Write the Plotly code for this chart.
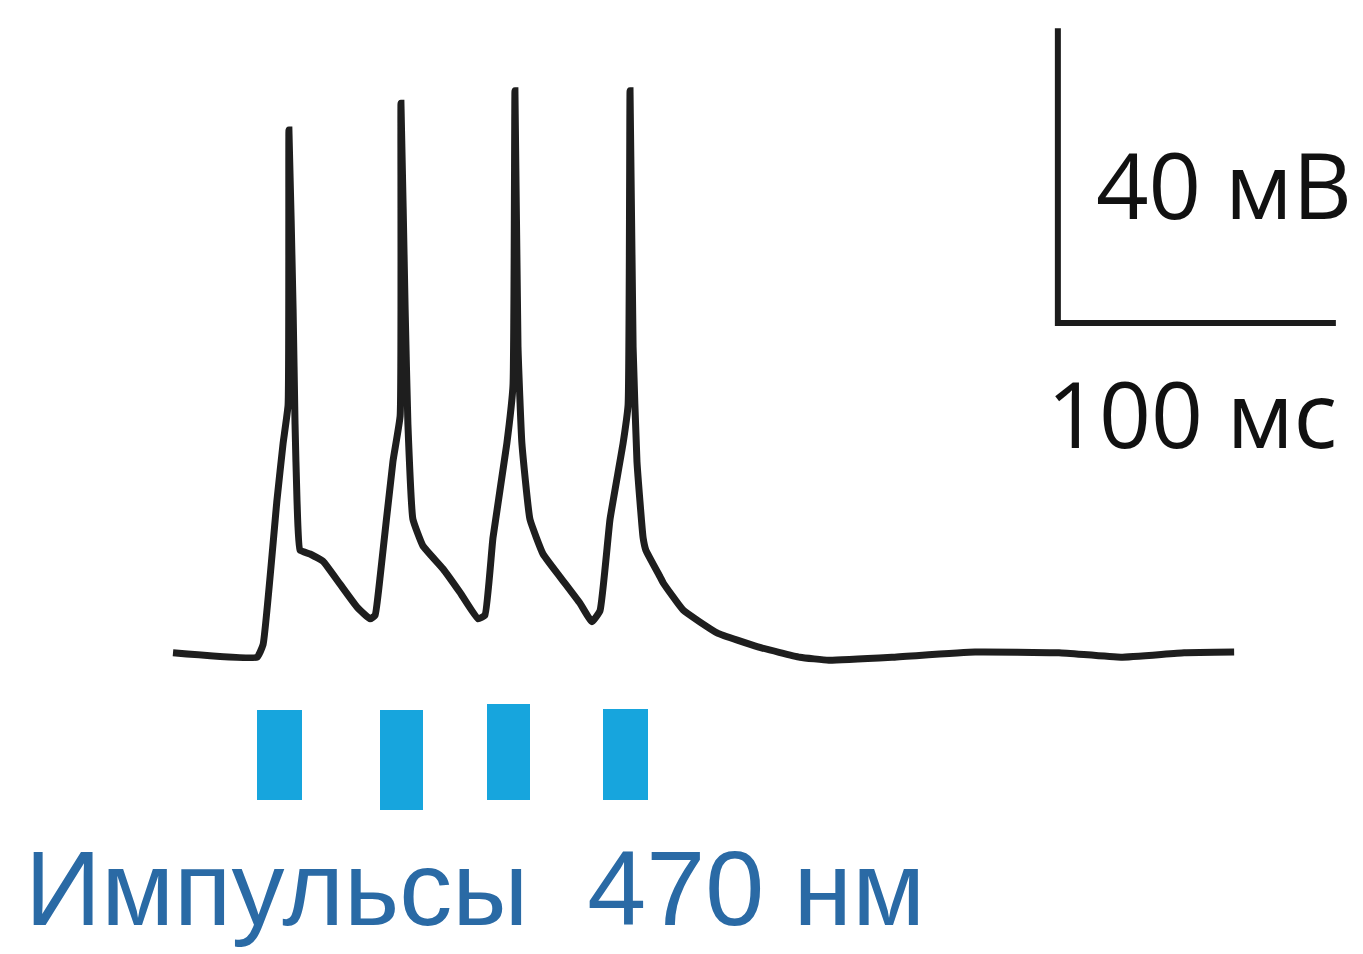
import plotly.graph_objects as go

# Membrane potential trace (time in ms, voltage in mV)
time_ms = [0, 30.2, 32.4, 37.4, 39.6, 41.4, 41.7, 43.2, 43.9, 44.6, 45.7, 49.3, 54.0, 60.1, 66.2,
           70.9, 72.7, 74.5, 79.1, 81.7, 82.0, 83.5, 84.5, 86.3, 89.9, 97.1, 103.2, 109.7, 112.2,
           115.1, 120.1, 122.3, 123.0, 124.1, 125.5, 128.4, 133.1, 139.2, 146.4, 150.7, 153.6,
           157.2, 161.9, 163.7, 164.4, 165.5, 166.9, 169.1, 170.1, 175.2, 176.3, 183.5, 195.7,
           210.4, 225.5, 235.9, 258.6, 288.5, 318.7, 341.0, 363.7, 381.7]
voltage_mV = [-64.7, -65.3, -63.6, -44.0, -36.3, -31.1, 6.2, -18.1, -33.7, -44.0, -50.8, -51.3,
              -52.3, -55.4, -58.5, -60.1, -59.6, -54.4, -38.8, -32.6, 9.8, -18.1, -33.7, -46.6,
              -50.2, -53.3, -56.5, -60.1, -59.6, -49.1, -36.3, -28.5, 11.5, -23.2, -36.3, -46.6,
              -51.3, -54.4, -58.0, -60.5, -59.0, -46.6, -36.3, -31.1, 11.5, -23.2, -38.8, -49.1,
              -50.8, -54.4, -55.2, -58.9, -62.0, -63.9, -65.3, -65.7, -65.3, -64.6, -64.7, -65.3,
              -64.7, -64.6]

# 470 nm light pulses: start and end (ms)
pulse_start_ms = [30.2, 74.5, 112.9, 154.7]
pulse_end_ms = [46.4, 89.9, 128.4, 170.9]
pulse_low_mV = [-84.7, -86.0, -84.7, -84.7]
pulse_high_mV = [-72.5, -72.5, -71.7, -72.3]

# Scale bar
scale_t0 = 318.3
scale_time_ms = 100
scale_v0 = -20.0
scale_volt_mV = 40

label_voltage = "40 мВ"
label_time = "100 мс"
label_pulses = "Импульсы\u00a0 470 нм"

W, H = 1363, 954
px_per_ms = 2.78
px_per_mV = 7.375
x_origin_px = 173
y_origin_px = 655
v_origin = -65.0

x_range = [-x_origin_px / px_per_ms, (W - x_origin_px) / px_per_ms]
y_range = [v_origin - (H - y_origin_px) / px_per_mV, v_origin + y_origin_px / px_per_mV]

fig = go.Figure()

# pulses as bars
fig.add_trace(go.Bar(
    x=[(a + b) / 2 for a, b in zip(pulse_start_ms, pulse_end_ms)],
    width=[b - a for a, b in zip(pulse_start_ms, pulse_end_ms)],
    base=pulse_low_mV,
    y=[h - l for h, l in zip(pulse_high_mV, pulse_low_mV)],
    marker=dict(color="#17a5dd", line=dict(width=0)),
    hoverinfo="skip",
))

fig.add_trace(go.Scatter(
    x=time_ms, y=voltage_mV, mode="lines",
    line=dict(color="#1e1e1e", width=7, shape="spline", smoothing=0.35),
    hoverinfo="skip",
))

# scale bar
fig.add_trace(go.Scatter(
    x=[scale_t0, scale_t0, scale_t0 + scale_time_ms],
    y=[scale_v0 + scale_volt_mV, scale_v0, scale_v0],
    mode="lines", line=dict(color="#1c1c1c", width=6),
    hoverinfo="skip",
))

fig.add_annotation(x=scale_t0 + 13, y=scale_v0 + 19.0, xref="x", yref="y", text=label_voltage,
                   showarrow=False, xanchor="left", yanchor="middle",
                   font=dict(family="Open Sans", size=92, color="#111111"))
fig.add_annotation(x=scale_t0 + scale_time_ms + 1, y=scale_v0 - 12.2, xref="x", yref="y",
                   text=label_time, showarrow=False, xanchor="right", yanchor="middle",
                   font=dict(family="Open Sans", size=91, color="#111111"))
fig.add_annotation(x=x_range[0] + 23 / px_per_ms, y=v_origin - (888 - y_origin_px) / px_per_mV,
                   xref="x", yref="y", text=label_pulses, showarrow=False,
                   xanchor="left", yanchor="middle",
                   font=dict(family="Liberation Sans", size=106, color="#2a6aa5"))

fig.update_layout(
    width=W, height=H, margin=dict(l=0, r=0, t=0, b=0),
    paper_bgcolor="white", plot_bgcolor="white", showlegend=False,
    xaxis=dict(range=x_range, visible=False, fixedrange=True),
    yaxis=dict(range=y_range, visible=False, fixedrange=True),
    bargap=0,
)

fig.write_html("out.html", config={"displayModeBar": False})
